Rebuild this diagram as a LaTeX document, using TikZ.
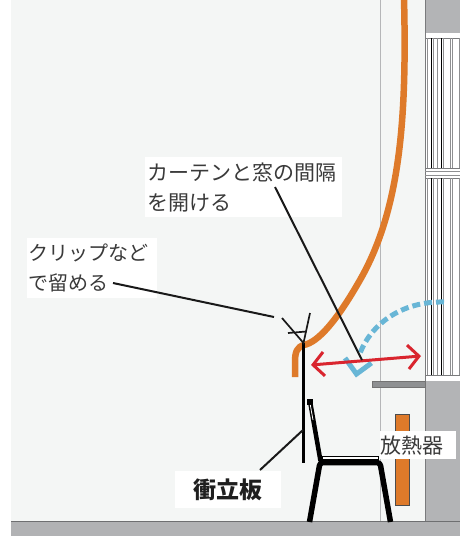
\documentclass[tikz,border=0pt]{standalone}
\usepackage{fontspec}
\newfontfamily\jp{Noto Sans CJK JP}
\usetikzlibrary{arrows.meta}
\definecolor{wallbg}{HTML}{F4F6F5}
\definecolor{floorgray}{HTML}{B1B2B4}
\definecolor{floorline}{HTML}{6E6F71}
\definecolor{wallgray}{HTML}{B3B4B6}
\definecolor{framegray}{HTML}{7A7B7D}
\definecolor{barthin}{HTML}{8E8F91}
\definecolor{recessline}{HTML}{B5B6B8}
\definecolor{curtain}{HTML}{DE7A2A}
\definecolor{arrowred}{HTML}{D9252E}
\definecolor{swingblue}{HTML}{68B6D6}
\definecolor{labelgray}{HTML}{3A3A3A}
\definecolor{sillgray}{HTML}{8E9092}
\begin{document}
\begin{tikzpicture}[x=1pt,y=-1pt,
  textbox/.style={fill=white, inner ysep=0pt, inner xsep=0pt, text=labelgray,
    font=\jp\fontsize{20}{30}\selectfont, align=left},
  leader/.style={draw=black!90, line width=2pt},
  clipline/.style={draw=black!90, line width=1.7pt},
  chairline/.style={draw=black, line width=5.5pt, line join=round},
  barthick/.style={draw=black, line width=1.8pt},
  barlight/.style={draw=barthin, line width=0.7pt},
]
\useasboundingbox (0,0) rectangle (460,536);

% wall, floor and window recess
\fill[white] (0,0) rectangle (460,536);
\fill[wallbg] (11,0) rectangle (460,521);
\fill[floorgray] (11,521) rectangle (460,536);
\draw[floorline, line width=1pt] (11,521.5) -- (460,521.5);
\draw[recessline, line width=1pt] (380.5,0) -- (380.5,521);

% right wall block with the window
\fill[wallgray] (425,0) rectangle (460,33);
\fill[wallgray] (425,381) rectangle (460,521);
\fill[white] (425,33) rectangle (460,381);
\draw[framegray, line width=0.8pt] (425,0) -- (425,521);
% window panels
\foreach \top/\bot in {38/168, 178/375}{
  \draw[framegray, line width=0.8pt] (425,\top) -- (460,\top);
  \draw[framegray, line width=0.8pt] (425,\bot) -- (460,\bot);
  \foreach \xx in {427,433.5,437,443.5,450,452.5,459.5}
    \draw[barlight] (\xx,\top) -- (\xx,\bot);
  \draw[barthick] (431.5,\top) -- (431.5,\bot);
  \draw[barthick] (441.5,\top) -- (441.5,\bot);
}
\draw[barlight] (425,171.5) -- (460,171.5);
\draw[barlight] (425,175) -- (460,175);
% window sill
\filldraw[fill=sillgray, draw=black!55, line width=0.6pt] (372,381.5) rectangle (425,387.5);

% radiator
\filldraw[fill=curtain, draw=black!70, line width=0.8pt] (395,414) rectangle (409,505);

% curtain
\draw[curtain, line width=6.5pt]
  (404,-2) .. controls (407,120) and (400,210) .. (360,280)
  .. controls (336,322) and (318,342) .. (304,345)
  .. controls (297,347) and (295,352) .. (295,362) -- (295,377);

% partition board
\coordinate (boardTop) at (303.5,343);
\coordinate (boardBot) at (303.5,463);
\draw[black, line width=3pt] (boardTop) -- (boardBot);

% clip on top of the board
\coordinate (clipL) at (282,318);
\coordinate (clipR) at (310,313);
\coordinate (clipBarL) at (288,333);
\coordinate (clipBarR) at (306.5,331.5);
\draw[clipline] (clipL) -- (boardTop) -- (clipR);
\draw[clipline] (clipBarL) -- (clipBarR);

% chair
\draw[black, line width=4.5pt] (310,401) -- (320.5,461);
\filldraw[fill=black, draw=black] (307.5,399) rectangle (312,404);
\draw[white, line width=0.8pt] (310.3,405) -- (313,420);
\filldraw[fill=white, draw=black, line width=1pt] (322,456) rectangle (378,459.5);
\draw[chairline, rounded corners=3pt] (309.5,522) -- (320,462.5) -- (380,462.5) -- (390.5,522);

% window swing
\coordinate (swingStart) at (444,302);
\coordinate (swingEnd) at (359,356);
\draw[swingblue, line width=5pt, dash pattern=on 8pt off 4pt]
  (swingStart) .. controls (402,301) and (370,324) .. (swingEnd);
\draw[swingblue, line width=5pt, line join=miter] (345,358) -- (356.5,374) -- (371.5,363);

% gap arrow
\coordinate (gapL) at (311,365);
\coordinate (gapR) at (421,356);
\draw[arrowred, line width=3pt,
  {Straight Barb[length=11pt,width=24pt]}-{Straight Barb[length=11pt,width=24pt]}] (gapL) -- (gapR);

% labels
\node[textbox, anchor=north west, minimum width=197pt, minimum height=60pt,
  text width=193pt, inner xsep=2pt, font=\jp\fontsize{21}{30}\selectfont]
  (gapNote) at (145,157) {カーテンと窓の間隔\\を開ける};
\node[textbox, anchor=north west, minimum width=130pt, minimum height=60pt,
  text width=127pt, inner xsep=1.5pt] (clipNote) at (27,238) {クリップなど\\で留める};
\node[textbox, anchor=north west, minimum width=106pt, minimum height=37pt,
  text width=106pt, align=center, text=black!88,
  font=\jp\bfseries\fontsize{23}{28}\selectfont] (boardNote) at (175,471) {衝立板};
\node[textbox, anchor=north west, minimum width=76pt, minimum height=28pt,
  text width=76pt, font=\jp\fontsize{21}{26}\selectfont] (radNote) at (380,431) {放熱器};

% leader lines
\coordinate (gapTail) at (275,187);
\coordinate (gapHead) at (362,360);
\coordinate (clipTail) at (113,283);
\coordinate (clipHead) at (274,317);
\coordinate (boardTail) at (260,470);
\coordinate (boardHead) at (303,430);
\draw[leader] (gapTail) -- (gapHead);
\draw[leader] (clipTail) -- (clipHead);
\draw[leader] (boardTail) -- (boardHead);
\end{tikzpicture}
\end{document}
